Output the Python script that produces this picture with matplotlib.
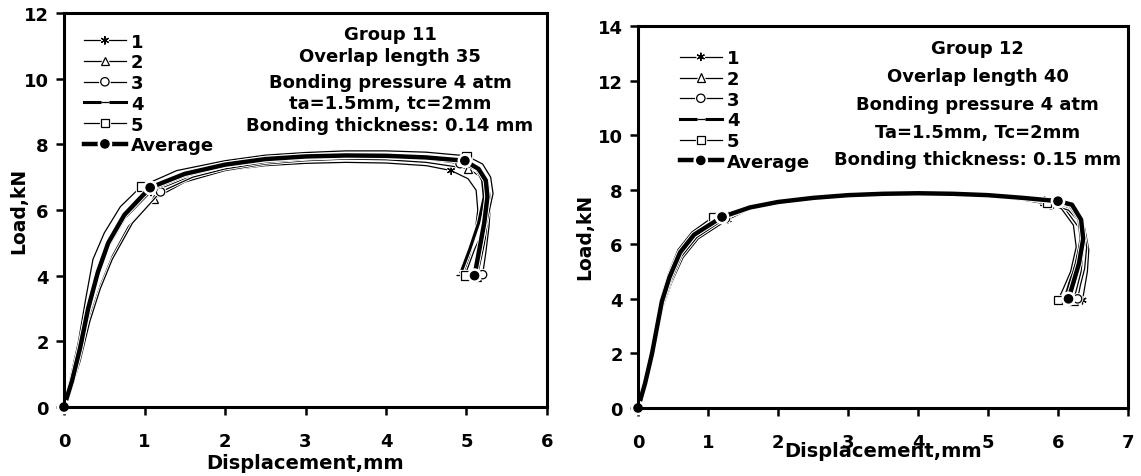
import numpy as np
import matplotlib
matplotlib.use("Agg")
import matplotlib.pyplot as plt
import matplotlib.patheffects as pe

plt.rcParams['font.family'] = ['DejaVu Sans']
plt.rcParams['font.weight'] = 'bold'

# === Group 11 (left panel): load vs displacement ===
g11_x = {
    "1": [0, 0.1, 0.2, 0.3, 0.42, 0.56, 0.76, 1.08, 1.5, 2.0, 2.5, 3.0, 3.5, 4.0, 4.5, 4.81, 5.02, 5.12, 5.14, 5.1, 5.04, 4.97],
    "2": [0, 0.1, 0.2, 0.3, 0.45, 0.6, 0.8, 1.12, 1.5, 2.0, 2.5, 3.0, 3.5, 4.0, 4.5, 5.02, 5.18, 5.26, 5.28, 5.25, 5.19, 5.13],
    "3": [0, 0.1, 0.2, 0.32, 0.45, 0.6, 0.85, 1.2, 1.6, 2.0, 2.5, 3.0, 3.5, 4.0, 4.5, 4.92, 5.15, 5.27, 5.3, 5.28, 5.24, 5.2],
    "4": [0, 0.1, 0.2, 0.3, 0.42, 0.55, 0.75, 1.05, 1.5, 2.0, 2.5, 3.0, 3.5, 4.0, 4.5, 4.95, 5.12, 5.2, 5.22, 5.15, 5.04, 4.92],
    "5": [0, 0.08, 0.18, 0.27, 0.36, 0.5, 0.7, 0.96, 1.4, 2.0, 2.5, 3.0, 3.5, 4.0, 4.5, 5.0, 5.2, 5.3, 5.33, 5.25, 5.1, 4.98],
    "Average": [0, 0.1, 0.2, 0.3, 0.42, 0.55, 0.75, 1.07, 1.5, 2.0, 2.5, 3.0, 3.5, 4.0, 4.5, 4.98, 5.15, 5.24, 5.26, 5.22, 5.16, 5.1],
}
g11_y = {
    "1": [0, 0.75, 1.75, 2.9, 4.0, 4.9, 5.75, 6.55, 6.95, 7.2, 7.35, 7.42, 7.45, 7.43, 7.35, 7.2, 6.95, 6.6, 6.0, 5.2, 4.6, 4.05],
    "2": [0, 0.65, 1.5, 2.6, 3.7, 4.6, 5.5, 6.34, 6.85, 7.2, 7.4, 7.5, 7.55, 7.53, 7.45, 7.26, 7.0, 6.6, 6.1, 5.3, 4.6, 3.95],
    "3": [0, 0.6, 1.4, 2.6, 3.6, 4.5, 5.6, 6.55, 7.0, 7.25, 7.45, 7.55, 7.6, 7.6, 7.55, 7.41, 7.2, 6.8, 6.3, 5.5, 4.7, 4.03],
    "4": [0, 0.8, 1.8, 3.0, 4.1, 5.0, 5.85, 6.6, 7.05, 7.35, 7.52, 7.6, 7.63, 7.62, 7.6, 7.55, 7.3, 6.9, 6.4, 5.6, 4.8, 4.02],
    "5": [0, 0.9, 2.0, 3.3, 4.5, 5.3, 6.1, 6.72, 7.2, 7.5, 7.67, 7.75, 7.8, 7.8, 7.76, 7.65, 7.4, 7.0, 6.5, 5.6, 4.8, 4.0],
    "Average": [0, 0.8, 1.8, 3.0, 4.1, 5.0, 5.85, 6.68, 7.1, 7.38, 7.55, 7.63, 7.66, 7.65, 7.6, 7.5, 7.25, 6.9, 6.4, 5.6, 4.8, 4.0],
}
g11_marks = [0, 7, 15, 21]

# === Group 12 (right panel) ===
g12_x = {
    "1": [0, 0.1, 0.2, 0.36, 0.48, 0.64, 0.86, 1.28, 1.6, 2.0, 2.5, 3.0, 3.5, 4.0, 4.5, 5.0, 5.5, 5.95, 6.2, 6.38, 6.44, 6.42, 6.38, 6.35],
    "2": [0, 0.1, 0.2, 0.34, 0.45, 0.6, 0.8, 1.1, 1.6, 2.0, 2.5, 3.0, 3.5, 4.0, 4.5, 5.0, 5.5, 5.8, 6.1, 6.3, 6.36, 6.33, 6.27, 6.22],
    "3": [0, 0.1, 0.21, 0.36, 0.47, 0.62, 0.84, 1.25, 1.6, 2.0, 2.5, 3.0, 3.5, 4.0, 4.5, 5.0, 5.5, 5.9, 6.15, 6.35, 6.41, 6.38, 6.32, 6.28],
    "4": [0, 0.1, 0.2, 0.34, 0.45, 0.6, 0.8, 1.18, 1.6, 2.0, 2.5, 3.0, 3.5, 4.0, 4.5, 5.0, 5.5, 5.98, 6.18, 6.3, 6.33, 6.26, 6.17, 6.1],
    "5": [0, 0.09, 0.19, 0.32, 0.43, 0.57, 0.77, 1.07, 1.6, 2.0, 2.5, 3.0, 3.5, 4.0, 4.5, 5.0, 5.5, 5.84, 6.05, 6.22, 6.26, 6.18, 6.08, 6.0],
    "Average": [0, 0.1, 0.2, 0.34, 0.45, 0.6, 0.8, 1.2, 1.6, 2.0, 2.5, 3.0, 3.5, 4.0, 4.5, 5.0, 5.5, 6.0, 6.2, 6.33, 6.36, 6.3, 6.22, 6.15],
}
g12_y = {
    "1": [0, 0.85, 1.9, 3.7, 4.6, 5.5, 6.2, 6.9, 7.3, 7.5, 7.65, 7.75, 7.8, 7.82, 7.8, 7.75, 7.65, 7.5, 7.3, 6.6, 5.8, 5.0, 4.4, 3.95],
    "2": [0, 0.9, 2.0, 3.9, 4.8, 5.7, 6.35, 6.98, 7.38, 7.58, 7.73, 7.83, 7.88, 7.9, 7.88, 7.82, 7.72, 7.6, 7.3, 6.6, 5.8, 5.0, 4.4, 3.92],
    "3": [0, 0.85, 1.9, 3.75, 4.65, 5.55, 6.25, 6.95, 7.32, 7.52, 7.68, 7.78, 7.83, 7.85, 7.82, 7.75, 7.62, 7.45, 7.25, 6.7, 5.9, 5.1, 4.5, 4.0],
    "4": [0, 0.9, 2.0, 3.9, 4.8, 5.7, 6.35, 7.0, 7.35, 7.55, 7.7, 7.8, 7.86, 7.88, 7.86, 7.8, 7.7, 7.56, 7.4, 6.9, 6.2, 5.3, 4.6, 4.0],
    "5": [0, 0.95, 2.1, 4.0, 4.9, 5.8, 6.45, 7.0, 7.4, 7.6, 7.75, 7.85, 7.9, 7.9, 7.87, 7.8, 7.68, 7.52, 7.3, 6.7, 5.9, 5.0, 4.4, 3.95],
    "Average": [0, 0.9, 2.0, 3.9, 4.8, 5.7, 6.35, 7.0, 7.35, 7.55, 7.7, 7.8, 7.85, 7.87, 7.85, 7.8, 7.7, 7.58, 7.45, 6.9, 6.2, 5.3, 4.6, 4.0],
}
g12_marks = [0, 7, 17, 23]

series = ["1", "2", "3", "4", "5", "Average"]
styles = {
    "1": dict(marker=(6, 2, 0), lw=0.9, ms=6, mfc="black"),
    "2": dict(marker="^", lw=0.9, ms=6, mfc="white"),
    "3": dict(marker="o", lw=0.9, ms=6, mfc="white"),
    "4": dict(marker="_", lw=2.2, ms=6, mfc="black"),
    "5": dict(marker="s", lw=0.9, ms=6, mfc="white"),
    "Average": dict(marker="o", lw=3.2, ms=6, mfc="black"),
}

panels = [
    dict(rect=[0.0561, 0.1447, 0.4233, 0.826], xs=g11_x, ys=g11_y, marks=g11_marks,
         xmax=6, ymax=12,
         notes=["Group 11", "Overlap length 35", "Bonding pressure 4 atm",
                "ta=1.5mm, tc=2mm", "Bonding thickness: 0.14 mm"],
         note_x=4.05, note_y=[11.35, 10.68, 9.9, 9.26, 8.6],
         leg_xy=(0.25, 11.4), xlabelpad=2, ylab=(-0.075, 0.5)),
    dict(rect=[0.5592, 0.1426, 0.4294, 0.8008], xs=g12_x, ys=g12_y, marks=g12_marks,
         xmax=7, ymax=14,
         notes=["Group 12", "Overlap length 40", "Bonding pressure 4 atm",
                "Ta=1.5mm, Tc=2mm", "Bonding thickness: 0.15 mm"],
         note_x=4.85, note_y=[13.2, 12.18, 11.15, 10.12, 9.12],
         leg_xy=(0.6, 13.15), xlabelpad=-7, ylab=(-0.09, 0.45)),
]

fig = plt.figure(figsize=(11.41, 4.77), dpi=100)

for p in panels:
    ax = fig.add_axes(p["rect"])
    for name in series:
        st = styles[name]
        ax.plot(p["xs"][name], p["ys"][name], color="black", lw=st["lw"],
                marker=st["marker"], ms=st["ms"], mfc=st["mfc"], mec="black",
                mew=0.9, markevery=p["marks"], label=name, clip_on=False,
                path_effects=[pe.Stroke(linewidth=st["lw"] + 1.4, foreground="white"), pe.Normal()])

    ax.set_xlim(0, p["xmax"])
    ax.set_ylim(0, p["ymax"])
    ax.set_xticks(range(0, p["xmax"] + 1))
    ax.set_yticks(range(0, p["ymax"] + 1, 2))
    ax.tick_params(direction="out", length=6, width=1.8, labelsize=13)
    ax.tick_params(axis="x", pad=12)
    ax.tick_params(axis="y", pad=5)
    for s in ax.spines.values():
        s.set_linewidth(2.2)
    ax.set_xlabel("Displacement,mm", fontsize=14, fontweight="bold", labelpad=p["xlabelpad"])
    ax.set_ylabel("Load,kN", fontsize=13.5, fontweight="bold")
    ax.yaxis.set_label_coords(*p["ylab"])

    for txt, ty in zip(p["notes"], p["note_y"]):
        ax.text(p["note_x"], ty, txt, ha="center", va="center", fontsize=13, fontweight="bold")

    ax.legend(loc="upper left", bbox_to_anchor=p["leg_xy"], bbox_transform=ax.transData,
              frameon=False, fontsize=13, handlelength=2.3, handletextpad=0.3,
              labelspacing=0.15, borderpad=0, borderaxespad=0)

fig.savefig("out.png", dpi=100)
